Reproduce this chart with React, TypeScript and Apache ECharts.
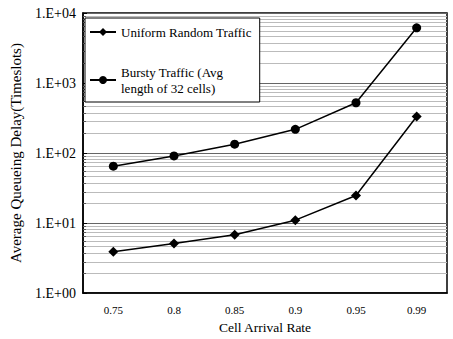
import React, { useEffect, useRef } from "react";
import * as echarts from "echarts";

const categories = ["0.75", "0.8", "0.85", "0.9", "0.95", "0.99"];
const uniformValues = [3.9, 5.1, 6.8, 11, 24.8, 332];
const burstyValues = [65, 91, 134, 218, 523, 6150];
const uniformName = "Uniform Random Traffic";
const burstyName = "Bursty Traffic (Avg\nlength of 32 cells)";

const FONT = "'Liberation Serif', 'Times New Roman', serif";

export default function App() {
  const ref = useRef<HTMLDivElement>(null);
  useEffect(() => {
    if (!ref.current) return;
    const chart = echarts.init(ref.current, undefined, { renderer: "svg" });
    chart.setOption({
      animation: false,
      backgroundColor: "#fff",
      textStyle: { fontFamily: FONT, color: "#000" },
      grid: {
        left: 78,
        right: 6,
        top: 13,
        bottom: 42,
        show: true,
        borderColor: "#000",
        borderWidth: 1.5,
      },
      legend: {
        orient: "vertical",
        left: 85,
        top: 18,
        width: 158,
        padding: [6, 8, 6, 4],
        backgroundColor: "#fff",
        borderColor: "#000",
        borderWidth: 1,
        itemGap: 24,
        itemWidth: 26,
        itemHeight: 10,
        textStyle: { fontFamily: FONT, fontSize: 13, color: "#000", lineHeight: 16 },
        data: [uniformName, burstyName],
      },
      xAxis: {
        type: "category",
        data: categories,
        boundaryGap: true,
        name: "Cell Arrival Rate",
        nameLocation: "middle",
        nameGap: 24,
        nameTextStyle: { fontFamily: FONT, fontSize: 13.5, color: "#000" },
        axisLine: { show: true, lineStyle: { color: "#000", width: 1.5 } },
        axisTick: { show: false },
        axisLabel: { fontFamily: FONT, fontSize: 11, color: "#000", margin: 11 },
        splitLine: { show: false },
      },
      yAxis: {
        type: "log",
        logBase: 10,
        min: 1,
        max: 10000,
        name: "Average Queueing Delay(Timeslots)",
        nameLocation: "middle",
        nameGap: 60,
        nameTextStyle: { fontFamily: FONT, fontSize: 15, color: "#000" },
        axisLine: { show: true, lineStyle: { color: "#000", width: 1.5 } },
        axisTick: { show: true, inside: true, length: 4, lineStyle: { color: "#000" } },
        minorTick: { show: true, splitNumber: 10, length: 3, lineStyle: { color: "#555" } },
        axisLabel: {
          fontFamily: FONT,
          fontSize: 14,
          color: "#000",
          margin: 7,
          formatter: (v: number) => "1.E+" + String(Math.round(Math.log10(v))).padStart(2, "0"),
        },
        splitLine: { show: true, lineStyle: { color: "#666", width: 1 } },
        minorSplitLine: { show: true, lineStyle: { color: "#bbb", width: 1 } },
      },
      series: [
        {
          name: uniformName,
          type: "line",
          data: uniformValues,
          symbol: "diamond",
          symbolSize: 10,
          itemStyle: { color: "#000" },
          lineStyle: { color: "#000", width: 1.5 },
        },
        {
          name: burstyName,
          type: "line",
          data: burstyValues,
          symbol: "circle",
          symbolSize: 9,
          itemStyle: { color: "#000" },
          lineStyle: { color: "#000", width: 1.5 },
        },
      ],
    });
    return () => chart.dispose();
  }, []);
  return <div ref={ref} style={{ width: 453, height: 339, position: "absolute", left: 0, top: 0 }} />;
}
